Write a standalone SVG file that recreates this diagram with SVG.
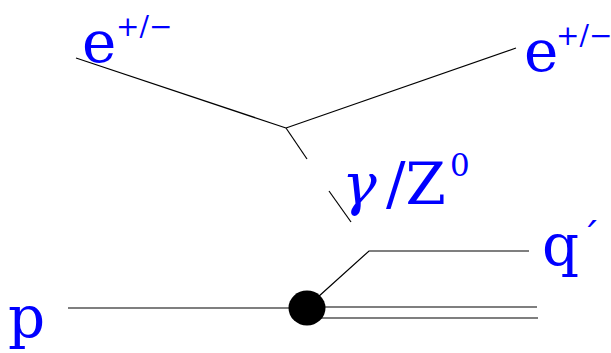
<svg xmlns="http://www.w3.org/2000/svg" width="611" height="353" viewBox="0 0 611 353">
<style>
.ln{stroke:#000;stroke-width:1.2;fill:none}
text{fill:#0000ff;font-size:58px;font-family:"DejaVu Serif","Liberation Serif",serif}
.sp{font-size:28px}
</style>
<rect width="611" height="353" fill="#fff"/>
<g id="connectors">
<line class="ln" x1="76" y1="58" x2="286" y2="128"/>
<line class="ln" x1="286" y1="128" x2="516" y2="48"/>
<line class="ln" x1="286" y1="128" x2="307" y2="159"/>
<line class="ln" x1="329" y1="191" x2="351" y2="222"/>
<line class="ln" x1="68" y1="308" x2="300" y2="308"/>
<line class="ln" x1="310" y1="307" x2="537" y2="307"/>
<line class="ln" x1="318" y1="318" x2="538" y2="318"/>
<polyline class="ln" points="318,297 369,251 529,251"/>
</g>
<g id="blob"><ellipse cx="307" cy="308" rx="18.5" ry="17.5" fill="#000"/></g>
<g id="e-left"><text x="82" y="62">e<tspan class="sp" x="116" y="36">+/−</tspan></text></g>
<g id="e-right"><text x="524" y="71">e<tspan class="sp" x="556" y="45">+/−</tspan></text></g>
<g id="boson"><text x="342" y="204"><tspan font-style="italic">γ</tspan><tspan x="386">/Z</tspan><tspan font-size="31px" x="450" y="176">0</tspan></text></g>
<g id="q"><text x="542" y="265">q<tspan font-size="40px" x="580" y="251">´</tspan></text></g>
<g id="p"><text x="8" y="337">p</text></g>
</svg>
